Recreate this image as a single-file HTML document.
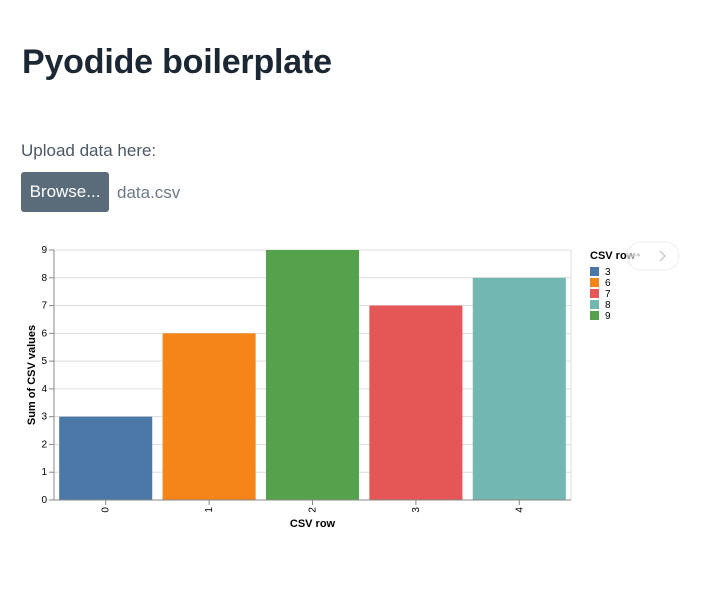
<!DOCTYPE html>
<html><head><meta charset="utf-8">
<style>
body{margin:0;width:701px;height:592px;background:#fff;font-family:"Liberation Sans",sans-serif;position:relative;overflow:hidden}
h1{position:absolute;left:22px;top:43px;margin:0;font-size:34px;font-weight:bold;color:#1b2733;letter-spacing:-0.2px}
.lbl{position:absolute;left:21px;top:141px;font-size:17px;color:#4a5866}
.btn{position:absolute;left:21px;top:172px;width:88px;height:40px;background:#5a6b7a;border-radius:3px;color:#fff;font-size:17px;line-height:40px;text-align:center}
.fname{position:absolute;left:117px;top:183px;font-size:17px;color:#6c7a87}
svg{position:absolute;left:0;top:0}
</style></head><body>
<h1>Pyodide boilerplate</h1>
<div class="lbl">Upload data here:</div>
<div class="btn">Browse...</div>
<div class="fname">data.csv</div>
<svg id="chart" width="701" height="592"></svg>
<script>
const categories=["0","1","2","3","4"];
const values=[3,6,9,7,8];
const legendLabels=["3","6","7","8","9"];
const legendColors=["#4c78a8","#f58518","#e45756","#72b7b2","#54a24b"];
const yTicks=[0,1,2,3,4,5,6,7,8,9];
const NS="http://www.w3.org/2000/svg";
const svg=document.getElementById('chart');
const x0=54,x1=571,yTop=250,yBot=500,yMax=9;
const band=(x1-x0)/categories.length,pad=0.1;
const xScale=i=>x0+band*i+band*pad/2;
const bw=band*(1-pad);
const yScale=v=>yBot-(v/yMax)*(yBot-yTop);
function el(t,a){const e=document.createElementNS(NS,t);for(const k in a)e.setAttribute(k,a[k]);svg.appendChild(e);return e;}
function colorFor(v){return legendColors[legendLabels.indexOf(String(v))]||"#4c78a8";}
yTicks.forEach(t=>{
 const y=yScale(t);
 const g=el('line',{x1:x0,x2:x1,y1:y,y2:y,stroke:'#ddd','stroke-width':1});
 
 
 const tk=el('line',{x1:x0-5,x2:x0,y1:y,y2:y,stroke:'#888'});
 
 
 const tx=el('text',{x:x0-7,y:y+3,'text-anchor':'end','font-size':10,fill:'#000','font-family':'Liberation Sans, sans-serif'});
 tx.textContent=t;
 
 
});
el('line',{x1:x1,x2:x1,y1:yTop,y2:yBot,stroke:'#ddd'});
values.forEach((v,i)=>{
 const r=el('rect',{x:xScale(i),y:yScale(v),width:bw,height:yBot-yScale(v),fill:colorFor(v)});
 
 
 const cx=x0+band*(i+0.5);
 const tk=el('line',{x1:cx,x2:cx,y1:yBot,y2:yBot+5,stroke:'#888'});
 
 
 const tx=el('text',{x:0,y:0,'text-anchor':'end','font-size':10,fill:'#000','font-family':'Liberation Sans, sans-serif',transform:`translate(${cx+3},${yBot+7}) rotate(-90)`});
 tx.textContent=categories[i];
 
 
});
el('line',{x1:x0,x2:x0,y1:yTop,y2:yBot,stroke:'#888'});
el('line',{x1:x0,x2:x1,y1:yBot,y2:yBot,stroke:'#888'});
const xt=el('text',{x:(x0+x1)/2,y:527,'text-anchor':'middle','font-size':11,'font-weight':'bold','font-family':'Liberation Sans, sans-serif'});
xt.textContent='CSV row';


const yt=el('text',{x:0,y:0,'text-anchor':'middle','font-size':11,'font-weight':'bold','font-family':'Liberation Sans, sans-serif',transform:`translate(35,${(yTop+yBot)/2}) rotate(-90)`});
yt.textContent='Sum of CSV values';


const lt=el('text',{x:590,y:259,'font-size':11,'font-weight':'bold','font-family':'Liberation Sans, sans-serif'});
lt.textContent='CSV row';


legendLabels.forEach((l,i)=>{
 const y=267+i*11;
 const s=el('rect',{x:590,y:y,width:9,height:9,fill:legendColors[i]});
 
 
 const t=el('text',{x:605,y:y+8,'font-size':10,'font-family':'Liberation Sans, sans-serif'});
 t.textContent=l;
 
 
});
const ab=el('rect',{x:627,y:242,width:52,height:28,rx:14,fill:'rgba(255,255,255,0.6)',stroke:'#eee'});


const dots=el('text',{x:632,y:259,'font-size':12,fill:'#ccc','font-family':'Liberation Sans, sans-serif'});
dots.textContent='••';
const ch=el('path',{d:'M660 251 L665 256 L660 261',fill:'none',stroke:'#ccc','stroke-width':1.5});


</script>
</body></html>
